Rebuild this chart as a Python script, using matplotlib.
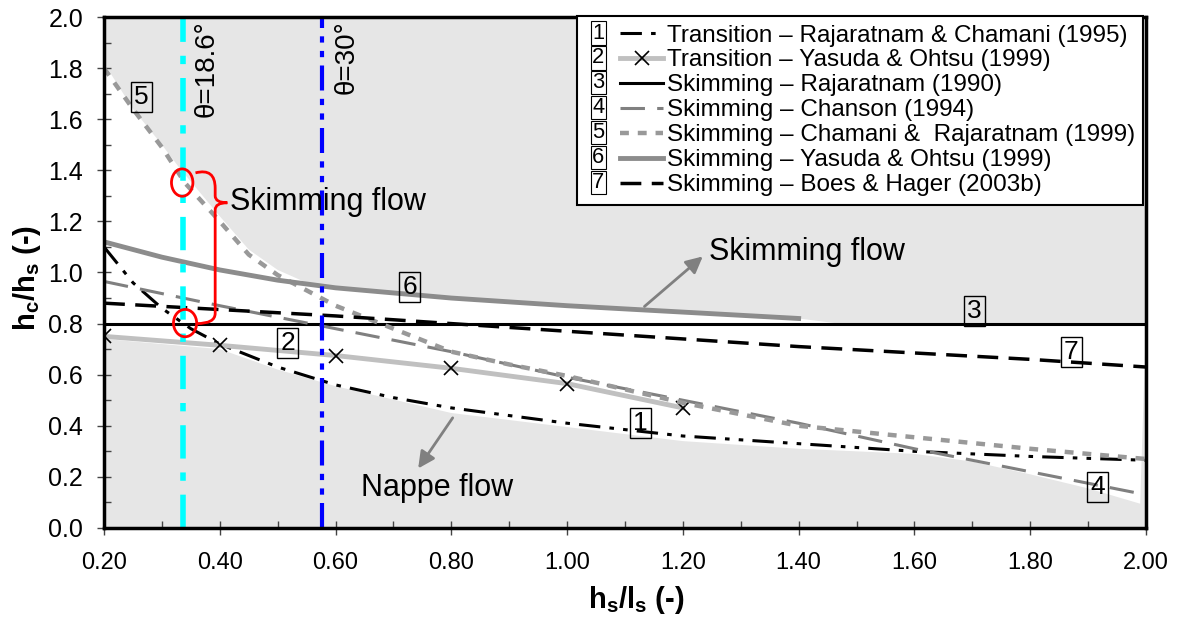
import numpy as np
import matplotlib
matplotlib.use("Agg")
import matplotlib.pyplot as plt
from matplotlib.patches import Ellipse, PathPatch
from matplotlib.path import Path
from matplotlib.legend_handler import HandlerLine2D
from matplotlib.ticker import MultipleLocator, FormatStrFormatter

plt.rcParams['font.family'] = ['Liberation Sans', 'DejaVu Sans']
plt.rcParams['mathtext.fontset'] = 'custom'
plt.rcParams['mathtext.rm'] = 'Liberation Sans'
plt.rcParams['mathtext.bf'] = 'Liberation Sans:bold'

# --- data ---
# 1 Transition - Rajaratnam & Chamani (1995)
x1 = [0.2, 0.25, 0.3, 0.35, 0.4, 0.5, 0.6, 0.7, 0.8, 1.0, 1.2, 1.4, 1.6, 1.8, 2.0]
y1 = [1.10, 0.96, 0.86, 0.78, 0.72, 0.63, 0.56, 0.51, 0.47, 0.41, 0.36, 0.33, 0.30, 0.28, 0.265]
# 2 Transition - Yasuda & Ohtsu (1999)
x2 = [0.2, 0.4, 0.6, 0.8, 1.0, 1.2]
y2 = [0.75, 0.715, 0.675, 0.625, 0.565, 0.47]
# 3 Skimming - Rajaratnam (1990)
x3 = [0.2, 2.0]
y3 = [0.8, 0.8]
# 4 Skimming - Chanson (1994)
x4 = [0.2, 0.4, 0.6, 0.8, 1.0, 1.2, 1.4, 1.6, 1.8, 2.0]
y4 = [0.965, 0.87, 0.78, 0.69, 0.59, 0.50, 0.41, 0.31, 0.22, 0.13]
# 5 Skimming - Chamani & Rajaratnam (1999)
x5 = [0.2, 0.25, 0.3, 0.34, 0.4, 0.45, 0.5, 0.55, 0.6, 0.7, 0.8, 0.9, 1.0, 1.2, 1.4, 1.6, 1.8, 2.0]
y5 = [1.80, 1.64, 1.49, 1.35, 1.20, 1.07, 0.99, 0.93, 0.87, 0.78, 0.69, 0.64, 0.595, 0.49, 0.40, 0.355, 0.31, 0.27]
# 6 Skimming - Yasuda & Ohtsu (1999)
x6 = [0.2, 0.3, 0.4, 0.5, 0.6, 0.8, 1.0, 1.2, 1.4]
y6 = [1.12, 1.06, 1.01, 0.97, 0.94, 0.90, 0.87, 0.845, 0.82]
# 7 Skimming - Boes & Hager (2003b)
x7 = [0.2, 0.6, 1.0, 1.4, 1.8, 2.0]
y7 = [0.88, 0.83, 0.77, 0.71, 0.66, 0.63]

# white band (transition region)
band_top_x = [0.2, 0.25, 0.3, 0.33, 0.4, 0.45, 0.5, 0.55, 0.6, 0.8, 1.0, 1.2, 1.4, 1.47, 2.0]
band_top_y = [1.82, 1.64, 1.50, 1.41, 1.22, 1.09, 1.01, 0.96, 0.94, 0.90, 0.87, 0.845, 0.82, 0.80, 0.80]
band_bot_x = [0.2, 0.4, 0.5, 0.6, 0.8, 1.0, 1.2, 1.4, 1.6, 1.7, 1.8, 1.9, 1.99]
band_bot_y = [0.74, 0.70, 0.62, 0.555, 0.45, 0.395, 0.34, 0.31, 0.29, 0.26, 0.21, 0.155, 0.095]

theta_angles = [18.6, 30]
labels = ['Transition – Rajaratnam & Chamani (1995)',
          'Transition – Yasuda & Ohtsu (1999)',
          'Skimming – Rajaratnam (1990)',
          'Skimming – Chanson (1994)',
          'Skimming – Chamani &  Rajaratnam (1999)',
          'Skimming – Yasuda & Ohtsu (1999)',
          'Skimming – Boes & Hager (2003b)']


class NumBoxHandler(HandlerLine2D):
    # boxed number in front of the line sample
    def __init__(self, num, **kw):
        super().__init__(**kw)
        self.num = num

    def create_artists(self, legend, orig_handle, xdescent, ydescent,
                       width, height, fontsize, trans):
        off = 1.45 * fontsize
        arts = super().create_artists(legend, orig_handle, xdescent - off, ydescent,
                                      width - off, height, fontsize, trans)
        t = plt.Text(-xdescent + 0.3 * fontsize, (height - ydescent) / 2.0, str(self.num),
                     ha='left', va='center', fontsize=fontsize * 0.9,
                     transform=trans,
                     bbox=dict(boxstyle='square,pad=0.05', fc='white', ec='black', lw=0.8))
        return list(arts) + [t]


fig = plt.figure(figsize=(11.89, 6.17), dpi=100)
ax = fig.add_axes([0.0875, 0.1443, 0.8763, 0.8281])
ax.set_facecolor('#e6e6e6')

# white band
poly_x = band_top_x + band_bot_x[::-1]
poly_y = band_top_y + band_bot_y[::-1]
ax.fill(poly_x, poly_y, color='white', lw=0, zorder=0.5)

# curves
l1, = ax.plot(x1, y1, color='black', lw=2.2, dashes=(7, 3, 1.5, 3, 1.5, 3), zorder=3)
l2, = ax.plot(x2, y2, color='#c0c0c0', lw=3.5, marker='x', ms=10, mec='black', mew=1.2, zorder=3)
l3, = ax.plot(x3, y3, color='black', lw=2.2, zorder=3)
l4, = ax.plot(x4, y4, color='#808080', lw=2.2, dashes=(8, 4), zorder=3)
l5, = ax.plot(x5, y5, color='#999999', lw=3.2, dashes=(2, 2), zorder=3)
l6, = ax.plot(x6, y6, color='#8c8c8c', lw=3.5, zorder=3)
l7, = ax.plot(x7, y7, color='black', lw=2.5, dashes=(6, 3), zorder=3)

# step angle lines
tx = [np.tan(np.radians(a)) for a in theta_angles]
ax.axvline(tx[0], color='#00ffff', lw=4, dashes=(6, 2.5, 1.5, 2.5), zorder=4)
ax.axvline(tx[1], color='#0000ff', lw=3, dashes=(6, 2, 1.5, 2, 1.5, 2), zorder=4)
ax.text(0.378, 1.985, 'θ=18.6°', rotation=90, fontsize=20, ha='center', va='top', zorder=5)
ax.text(0.619, 1.985, 'θ=30°', rotation=90, fontsize=20, ha='center', va='top', zorder=5)

# number boxes
box_x = [1.126, 0.517, 1.703, 1.916, 0.264, 0.728, 1.871]
box_y = [0.41, 0.724, 0.85, 0.16, 1.686, 0.943, 0.69]
for i, (bx, by) in enumerate(zip(box_x, box_y)):
    ax.text(bx, by, str(i + 1), fontsize=19, ha='center', va='center', zorder=6,
            bbox=dict(boxstyle='square,pad=0.12', fc='none', ec='black', lw=1))

# red circles and brace
ax.add_patch(Ellipse((0.335, 1.352), 0.037, 0.107, fill=False, ec='red', lw=2, zorder=6))
ax.add_patch(Ellipse((0.340, 0.802), 0.040, 0.107, fill=False, ec='red', lw=2, zorder=6))
verts = [(0.358, 1.39), (0.392, 1.41), (0.392, 1.33), (0.392, 1.30),
         (0.392, 1.273), (0.413, 1.273), (0.392, 1.273), (0.392, 1.245),
         (0.392, 0.84), (0.392, 0.80), (0.360, 0.80)]
codes = [Path.MOVETO, Path.CURVE3, Path.CURVE3, Path.LINETO,
         Path.CURVE3, Path.CURVE3, Path.CURVE3, Path.CURVE3,
         Path.LINETO, Path.CURVE3, Path.CURVE3]
ax.add_patch(PathPatch(Path(verts, codes), fill=False, ec='red', lw=2, zorder=6))
ax.text(0.418, 1.275, 'Skimming flow', fontsize=22, ha='left', va='center', zorder=6)

# flow regime labels
ax.annotate('', xy=(1.238, 1.07), xytext=(1.13, 0.86),
            arrowprops=dict(arrowstyle='-|>', color='#808080', lw=2, mutation_scale=25), zorder=6)
ax.text(1.245, 1.08, 'Skimming flow', fontsize=22, ha='left', va='center', zorder=6)
ax.annotate('', xy=(0.74, 0.224), xytext=(0.805, 0.44),
            arrowprops=dict(arrowstyle='-|>', color='#808080', lw=2, mutation_scale=25), zorder=6)
ax.text(0.776, 0.157, 'Nappe flow', fontsize=22, ha='center', va='center', zorder=6)

ax.set_xlim(0.2, 2.0)
ax.set_ylim(0.0, 2.0)
ax.xaxis.set_major_locator(MultipleLocator(0.2))
ax.xaxis.set_minor_locator(MultipleLocator(0.1))
ax.yaxis.set_major_locator(MultipleLocator(0.2))
ax.yaxis.set_minor_locator(MultipleLocator(0.1))
ax.xaxis.set_major_formatter(FormatStrFormatter('%.2f'))
ax.yaxis.set_major_formatter(FormatStrFormatter('%.1f'))
ax.tick_params(which='major', direction='inout', length=10, width=1, color='#444444')
ax.tick_params(axis='x', which='major', labelsize=17, pad=12)
ax.tick_params(axis='y', which='major', labelsize=18, pad=10)
ax.tick_params(which='minor', direction='in', length=5, width=1, color='#444444')
for s in ax.spines.values():
    s.set_linewidth(2.5)
    s.set_zorder(7)

fig.text(636 / 1189, 1 - 600 / 617, r'$\mathbf{h_s/l_s}$ (-)', fontsize=21,
         fontweight='bold', ha='center', va='center')
fig.text(27 / 1189, 1 - 278 / 617, r'$\mathbf{h_c/h_s}$ (-)', fontsize=21,
         fontweight='bold', ha='center', va='center', rotation=90)

handles = [l1, l2, l3, l4, l5, l6, l7]
hmap = {h: NumBoxHandler(i + 1, numpoints=1) for i, h in enumerate(handles)}
leg = ax.legend(handles, labels, loc='upper right', bbox_to_anchor=(0.9975, 1.002),
                fontsize=17.5, handlelength=3.2, handletextpad=0.16, labelspacing=0.12,
                borderpad=0.35, borderaxespad=0, fancybox=False, framealpha=1,
                edgecolor='black', handler_map=hmap)
leg.get_frame().set_linewidth(1.5)
leg.set_zorder(8)

fig.savefig('out.png', dpi=100)
